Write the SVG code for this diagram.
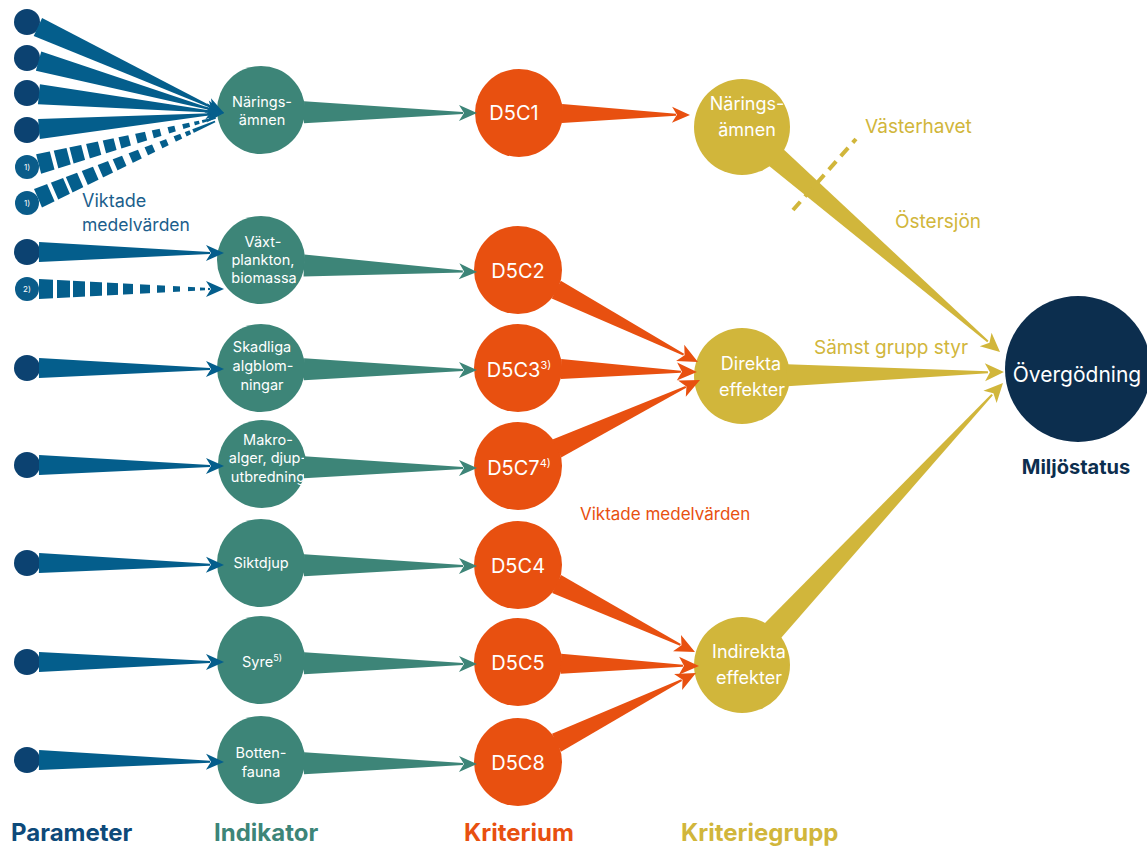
<svg xmlns="http://www.w3.org/2000/svg" width="1147" height="847" viewBox="0 0 1147 847">
  <style>
    .pc{fill:#0c4271}
    .ps{fill:#0a5c8a}
    .pw{fill:#045e8c}
    .tl{fill:#3d8578}
    .or{fill:#e85010}
    .ye{fill:#d1b63b}
    .nv{fill:#0c2e4e}
    text{font-family:Inter,"Noto Sans","DejaVu Sans",sans-serif}
    .nt{fill:#fff;text-anchor:middle;font-size:14.5px}
    .kt{fill:#fff;text-anchor:middle;font-size:20px}
    .gt{fill:#fff;text-anchor:middle;font-size:18px}
    .st{fill:#fff;text-anchor:middle;font-size:8px}
    .hd{font-weight:700;font-size:24px}
    .lb{font-size:19px;fill:#d1b63b}
  </style>
  <defs>
    <!-- dash pattern for the tapered dashed wedges, in the wedge's local frame -->
    <mask id="dashes" maskUnits="userSpaceOnUse" x="-20" y="-40" width="280" height="80">
      <line x1="0" y1="0" x2="260" y2="0" stroke="#fff" stroke-width="60" stroke-dasharray="26 4 13 3 12 5 12 5 11 5 10 7 10 7 8 8 7 8 7 5 5 3 60"/>
    </mask>
  </defs>

  <!-- Parameter nodes -->
  <g id="parameters">
    <circle class="pc" cx="27" cy="22" r="13"/>
    <circle class="pc" cx="27" cy="58" r="13"/>
    <circle class="pc" cx="27" cy="93" r="13"/>
    <circle class="pc" cx="27" cy="130" r="13"/>
    <circle class="ps" cx="27" cy="167" r="12"/>
    <text class="st" x="27" y="170">1)</text>
    <circle class="ps" cx="27" cy="203" r="12"/>
    <text class="st" x="27" y="206">1)</text>
    <circle class="pc" cx="27" cy="252" r="13"/>
    <circle class="ps" cx="27" cy="289" r="12"/>
    <text class="st" x="27" y="292">2)</text>
    <circle class="pc" cx="27" cy="368" r="13"/>
    <circle class="pc" cx="27" cy="465" r="13"/>
    <circle class="pc" cx="27" cy="563" r="13"/>
    <circle class="pc" cx="27" cy="662" r="13"/>
    <circle class="pc" cx="27" cy="760" r="13"/>
  </g>

  <!-- Indikator nodes -->
  <g id="ind-naringsamnen">
    <circle class="tl" cx="261" cy="110" r="44"/>
    <text class="nt" x="262" y="107">Närings-</text>
    <text class="nt" x="262" y="125">ämnen</text>
  </g>
  <g id="ind-vaxtplankton">
    <circle class="tl" cx="261" cy="260" r="44"/>
    <text class="nt" x="263" y="247">Växt-</text>
    <text class="nt" x="263" y="265">plankton,</text>
    <text class="nt" x="264" y="283">biomassa</text>
  </g>
  <g id="ind-skadliga">
    <circle class="tl" cx="261" cy="368" r="44"/>
    <text class="nt" x="262" y="352">Skadliga</text>
    <text class="nt" x="263" y="371">algblom-</text>
    <text class="nt" x="262" y="390">ningar</text>
  </g>
  <g id="ind-makroalger">
    <circle class="tl" cx="262" cy="464" r="44"/>
    <text class="nt" x="268" y="445">Makro-</text>
    <text class="nt" x="268" y="463">alger, djup-</text>
    <text class="nt" x="268" y="482">utbredning</text>
  </g>
  <g id="ind-siktdjup">
    <circle class="tl" cx="261" cy="563" r="44"/>
    <text class="nt" x="261" y="568">Siktdjup</text>
  </g>
  <g id="ind-syre">
    <circle class="tl" cx="261" cy="660" r="44"/>
    <text class="nt" x="262" y="667">Syre<tspan font-size="9" dy="-6">5)</tspan></text>
  </g>
  <g id="ind-bottenfauna">
    <circle class="tl" cx="261" cy="760" r="44"/>
    <text class="nt" x="261" y="758">Botten-</text>
    <text class="nt" x="261" y="777">fauna</text>
  </g>

  <!-- Kriterium nodes -->
  <g id="k-d5c1">
    <circle class="or" cx="519" cy="113" r="44"/>
    <text class="kt" x="514" y="120">D5C1</text>
  </g>
  <g id="k-d5c2">
    <circle class="or" cx="518" cy="270" r="44"/>
    <text class="kt" x="518" y="278">D5C2</text>
  </g>
  <g id="k-d5c3">
    <circle class="or" cx="518" cy="368" r="44"/>
    <text class="kt" x="519" y="377">D5C3<tspan font-size="11" dy="-8">3)</tspan></text>
  </g>
  <g id="k-d5c7">
    <circle class="or" cx="518" cy="466" r="44"/>
    <text class="kt" x="519" y="475">D5C7<tspan font-size="11" dy="-8">4)</tspan></text>
  </g>
  <g id="k-d5c4">
    <circle class="or" cx="518" cy="565" r="44"/>
    <text class="kt" x="518" y="573">D5C4</text>
  </g>
  <g id="k-d5c5">
    <circle class="or" cx="518" cy="662" r="44"/>
    <text class="kt" x="518" y="670">D5C5</text>
  </g>
  <g id="k-d5c8">
    <circle class="or" cx="518" cy="762" r="44"/>
    <text class="kt" x="518" y="770">D5C8</text>
  </g>

  <!-- Kriteriegrupp nodes -->
  <g id="g-naringsamnen">
    <circle class="ye" cx="742" cy="127" r="48"/>
    <text class="gt" x="747" y="110">Närings-</text>
    <text class="gt" x="747" y="136">ämnen</text>
  </g>
  <g id="g-direkta">
    <circle class="ye" cx="742" cy="376" r="48"/>
    <text class="gt" x="751" y="370">Direkta</text>
    <text class="gt" x="752" y="396">effekter</text>
  </g>
  <g id="g-indirekta">
    <circle class="ye" cx="742" cy="665" r="48"/>
    <text class="gt" x="749" y="658">Indirekta</text>
    <text class="gt" x="749" y="684">effekter</text>
  </g>

  <!-- Miljöstatus node -->
  <g id="overgodning">
    <circle class="nv" cx="1078" cy="369" r="73"/>
    <text x="1077" y="382" fill="#fff" font-size="21" text-anchor="middle">Övergödning</text>
    <text x="1076" y="474" fill="#0c2e4e" font-size="20" font-weight="700" text-anchor="middle">Miljöstatus</text>
  </g>

  <!-- Connectors: tapered wedges with arrowheads -->
  <g id="connectors">
    <!-- Parameter -> Indikator -->
    <g class="pw">
      <g transform="translate(27 22) rotate(24.79)"><path d="M12,-10L203,-1L203,1L12,10Z"/><path d="M217,0l-18,-8l5,8l-5,8Z"/></g>
      <g transform="translate(27 58) rotate(15.6)"><path d="M12,-10L190,-1L190,1L12,10Z"/><path d="M204.5,0l-18,-8l5,8l-5,8Z"/></g>
      <g transform="translate(27 93) rotate(5.8)"><path d="M12,-10L184,-1L184,1L12,10Z"/><path d="M198,0l-18,-8l5,8l-5,8Z"/></g>
      <g transform="translate(27 130) rotate(-4.93)"><path d="M12,-10L184,-1L184,1L12,10Z"/><path d="M197.7,0l-18,-8l5,8l-5,8Z"/></g>
      <g transform="translate(27 167) rotate(-14.53)"><path mask="url(#dashes)" d="M12,-10L195,-0.8L195,0.8L12,10Z"/></g>
      <g transform="translate(27 203) rotate(-23.45)"><path mask="url(#dashes)" d="M12,-10L205,-0.8L205,0.8L12,10Z"/></g>
      <g transform="translate(27 252) rotate(0.29)"><path d="M12,-10L183,-1L183,1L12,10Z"/><path d="M197,0l-18,-8l5,8l-5,8Z"/></g>
      <g transform="translate(27 289)"><path mask="url(#dashes)" d="M12,-10L183,-1L183,1L12,10Z"/><path d="M197,0l-18,-8l5,8l-5,8Z"/></g>
      <g transform="translate(27 368) rotate(0.29)"><path d="M12,-10L183,-1L183,1L12,10Z"/><path d="M197,0l-18,-8l5,8l-5,8Z"/></g>
      <g transform="translate(27 465) rotate(0.29)"><path d="M12,-10L183,-1L183,1L12,10Z"/><path d="M197,0l-18,-8l5,8l-5,8Z"/></g>
      <g transform="translate(27 563) rotate(0.58)"><path d="M12,-10L183,-1L183,1L12,10Z"/><path d="M197,0l-18,-8l5,8l-5,8Z"/></g>
      <g transform="translate(27 662)"><path d="M12,-10L183,-1L183,1L12,10Z"/><path d="M197,0l-18,-8l5,8l-5,8Z"/></g>
      <g transform="translate(27 760) rotate(0.58)"><path d="M12,-10L183,-1L183,1L12,10Z"/><path d="M197,0l-18,-8l5,8l-5,8Z"/></g>
    </g>
    <!-- Indikator -> Kriterium -->
    <g class="tl">
      <g transform="translate(261 112) rotate(0.27)"><path d="M43,-11L202,-1L202,1L43,11Z"/><path d="M216,0l-18,-8l5,8l-5,8Z"/></g>
      <g transform="translate(261 264) rotate(2.12)"><path d="M43,-11L202,-1L202,1L43,11Z"/><path d="M216.2,0l-18,-8l5,8l-5,8Z"/></g>
      <g transform="translate(261 369) rotate(0.27)"><path d="M43,-11L202,-1L202,1L43,11Z"/><path d="M216,0l-18,-8l5,8l-5,8Z"/></g>
      <g transform="translate(261 467) rotate(0.27)"><path d="M43,-11L202,-1L202,1L43,11Z"/><path d="M216,0l-18,-8l5,8l-5,8Z"/></g>
      <g transform="translate(261 565) rotate(0.27)"><path d="M43,-11L202,-1L202,1L43,11Z"/><path d="M216,0l-18,-8l5,8l-5,8Z"/></g>
      <g transform="translate(261 663) rotate(0.27)"><path d="M43,-11L202,-1L202,1L43,11Z"/><path d="M216,0l-18,-8l5,8l-5,8Z"/></g>
      <g transform="translate(261 763) rotate(0.27)"><path d="M43,-11L202,-1L202,1L43,11Z"/><path d="M216,0l-18,-8l5,8l-5,8Z"/></g>
    </g>
    <!-- Kriterium -> Kriteriegrupp -->
    <g class="or">
      <g transform="translate(519 113) rotate(0.67)"><path d="M43,-9.5L157,-1L157,1L43,9.5Z"/><path d="M171,0l-18,-8l5,8l-5,8Z"/></g>
      <g transform="translate(518 270) rotate(27.07)"><path d="M43,-10L186,-1L186,1L43,10Z"/><path d="M202.1,0l-20,-9l5,9l-5,9Z"/></g>
      <g transform="translate(518 368) rotate(1.28)"><path d="M43,-10L163,-1L163,1L43,10Z"/><path d="M179,0l-20,-9l5,9l-5,9Z"/></g>
      <g transform="translate(518 467) rotate(-25.55)"><path d="M43,-10L186,-1L186,1L43,10Z"/><path d="M201.7,0l-20,-9l5,9l-5,9Z"/></g>
      <g transform="translate(518 565) rotate(26.17)"><path d="M43,-10L181,-1L181,1L43,10Z"/><path d="M197.2,0l-20,-9l5,9l-5,9Z"/></g>
      <g transform="translate(518 663) rotate(0.95)"><path d="M43,-10L165,-1L165,1L43,10Z"/><path d="M181,0l-20,-9l5,9l-5,9Z"/></g>
      <g transform="translate(518 762) rotate(-26.57)"><path d="M43,-10L183,-1L183,1L43,10Z"/><path d="M199,0l-20,-9l5,9l-5,9Z"/></g>
    </g>
    <!-- Kriteriegrupp -> Miljöstatus -->
    <g class="ye">
      <g transform="translate(741 127) rotate(40.98)"><path d="M46,-11L327,-1L327,1L46,11Z"/><path d="M343.1,0l-19,-9l5,9l-5,9Z"/></g>
      <g transform="translate(741 376) rotate(-0.87)"><path d="M46,-11L247,-1L247,1L46,11Z"/><path d="M263,0l-19,-9l5,9l-5,9Z"/></g>
      <g transform="translate(741 665) rotate(-47.11)"><path d="M46,-11L369,-1L369,1L46,11Z"/><path d="M384.9,0l-19,-9l5,9l-5,9Z"/></g>
    </g>
    <!-- sea-area divider on the nutrient branch -->
    <line x1="793" y1="210" x2="856" y2="139" stroke="#d1b63b" stroke-width="4" stroke-dasharray="11 7"/>
  </g>

  <!-- Labels -->
  <g id="labels">
    <text x="82" y="207" font-size="18" fill="#1b5e8c">Viktade</text>
    <text x="82" y="231" font-size="17.5" fill="#1b5e8c">medelvärden</text>
    <text x="580" y="520" font-size="17" fill="#e85010">Viktade medelvärden</text>
    <text class="lb" x="865" y="133">Västerhavet</text>
    <text class="lb" x="895" y="228">Östersjön</text>
    <text class="lb" x="814" y="354" font-size="18.5">Sämst grupp styr</text>
  </g>

  <!-- Column headings -->
  <g id="headings">
    <text class="hd" x="11" y="841" fill="#0d4a7a">Parameter</text>
    <text class="hd" x="214" y="841" fill="#3d8578">Indikator</text>
    <text class="hd" x="464" y="841" fill="#e85010">Kriterium</text>
    <text class="hd" x="681" y="841" fill="#d1b63b">Kriteriegrupp</text>
  </g>
</svg>
